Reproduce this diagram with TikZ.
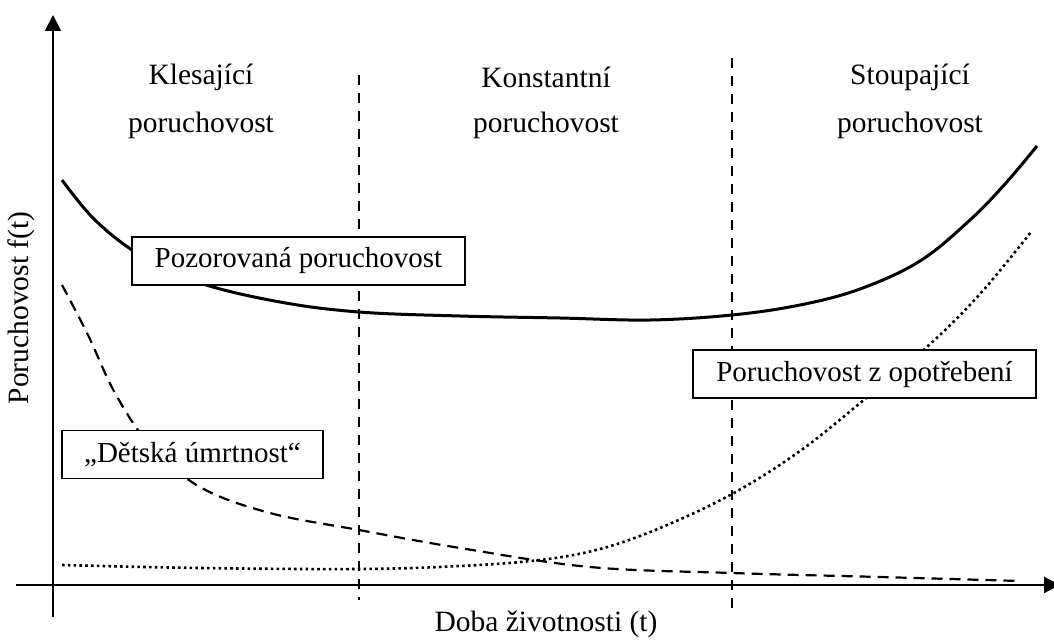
\documentclass[tikz,border=0pt]{standalone}
\usepackage{fontspec}
\setmainfont{Liberation Serif}
\usetikzlibrary{arrows.meta}
\begin{document}
\begin{tikzpicture}[x=1pt,y=-1pt,
  lbl/.style={font=\fontsize{29.5}{35}\selectfont, inner sep=0pt},
  tagbox/.style={draw, fill=white, line width=1.5pt, minimum height=48pt, inner sep=0pt, font=\fontsize{29}{35}\selectfont},
  axis/.style={line width=2pt},
  divider/.style={line width=1.5pt, dash pattern=on 10pt off 8pt},
  observed/.style={line width=3pt},
  infant/.style={line width=2.2pt, dash pattern=on 11pt off 7pt},
  wear/.style={line width=2.6pt, dash pattern=on 2.6pt off 3.2pt}]
\useasboundingbox (0,0) rectangle (1054,642);

% axes
\coordinate (ytop) at (53,15);
\coordinate (ybot) at (53,617);
\coordinate (xleft) at (16,585);
\coordinate (xright) at (1060,585);
\draw[axis,-{Triangle[width=16pt,length=16pt]}] (ybot) -- (ytop);
\draw[axis,-{Triangle[width=16pt,length=16pt]}] (xleft) -- (xright);

% period dividers
\coordinate (d1t) at (359,75);
\coordinate (d1b) at (359,600);
\coordinate (d2t) at (732,58);
\coordinate (d2b) at (732,612);
\draw[divider] (d1t) -- (d1b);
\draw[divider] (d2t) -- (d2b);

% period headings
\node[lbl] (h1a) at (201,77) {Klesající};
\node[lbl] (h1b) at (201,125) {poruchovost};
\node[lbl] (h2a) at (546,77) {Konstantní};
\node[lbl] (h2b) at (546,125) {poruchovost};
\node[lbl] (h3a) at (910,77) {Stoupající};
\node[lbl] (h3b) at (910,125) {poruchovost};

% axis titles
\node[lbl, rotate=90] (ylab) at (21,308) {Poruchovost f(t)};
\node[lbl] (xlab) at (546,624) {Doba životnosti (t)};

% observed failure rate (bathtub)
\draw[observed] plot[smooth, tension=0.6] coordinates {
  (62,180) (95,220) (140,255) (200,283) (280,302) (359,312)
  (460,316) (560,318) (650,320) (732,315) (800,305) (860,289)
  (920,261) (970,220) (1005,184) (1037,146)};

% infant mortality
\draw[infant] plot[smooth, tension=0.6] coordinates {
  (62,285) (88,335) (115,393) (150,445) (200,487) (270,513)
  (359,530) (460,548) (590,567) (732,573) (880,577) (1020,581)};

% wear-out failures
\draw[wear] plot[smooth, tension=0.6] coordinates {
  (62,565) (200,568) (359,569) (460,566) (540,560) (600,549)
  (660,528) (732,494) (800,451) (865,399) (928,346) (980,294) (1031,232)};

% curve labels
\node[tagbox, minimum width=333pt] (obs) at (298.5,261) {Pozorovaná poruchovost};
\node[tagbox, minimum width=261pt] (inf) at (192.5,454.5) {„Dětská úmrtnost“};
\node[tagbox, minimum width=343pt] (wr) at (864.5,374) {Poruchovost z opotřebení};
\end{tikzpicture}
\end{document}
